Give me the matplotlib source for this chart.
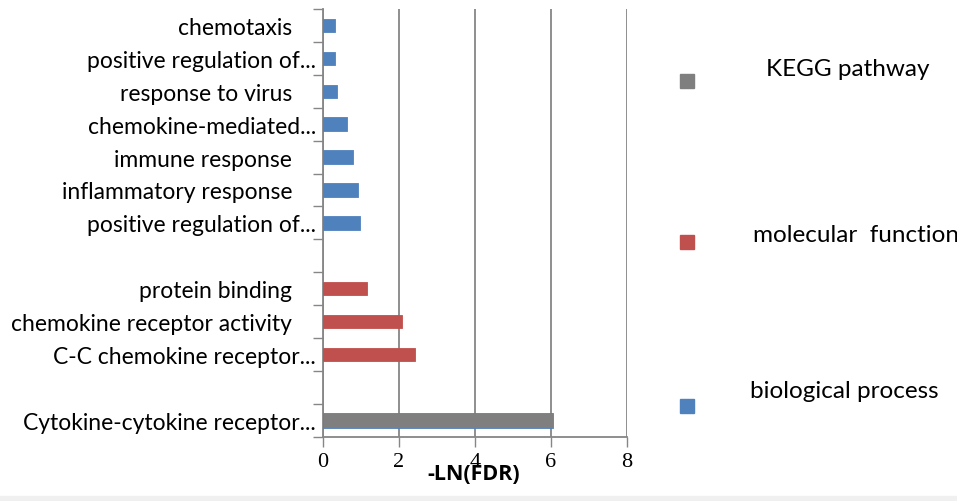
import numpy as np
import matplotlib.pyplot as plt

# categories listed bottom to top, blanks are spacer rows
labels = ["Cytokine-cytokine receptor...", "",
          "C-C chemokine receptor...", "chemokine receptor activity    ", "protein binding    ", "",
          "positive regulation of...", "inflammatory response    ", "immune response    ",
          "chemokine-mediated...", "response to virus    ", "positive regulation of...", "chemotaxis    "]
groups = ["kegg", None, "mf", "mf", "mf", None,
          "bp", "bp", "bp", "bp", "bp", "bp", "bp"]
values = [6.05, 0, 2.44, 2.08, 1.17, 0, 0.97, 0.93, 0.81, 0.65, 0.38, 0.33, 0.33]

legend_names = ["KEGG pathway", "molecular  function", "biological process"]
legend_keys = ["kegg", "mf", "bp"]
colors = {"kegg": "#7f7f7f", "mf": "#c0504d", "bp": "#4f81bd"}

W, H = 957, 502
fig = plt.figure(figsize=(W / 100, H / 100), dpi=100)
ax = fig.add_axes([322.7 / W, 1 - 437.7 / H, (626.7 - 322.7) / W, (437.7 - 10) / H])

y = np.arange(len(labels))
for yi, v, g in zip(y, values, groups):
    if g is None:
        continue
    h = 0.47 if g == "kegg" else 0.41
    ax.barh(yi, v, height=h, color=colors[g],
            edgecolor="#4f81bd" if g == "kegg" else colors[g], linewidth=0.6, zorder=3)

ax.set_xlim(0, 8)
ax.set_ylim(-0.5, len(labels) - 0.5)
ax.set_xticks([0, 2, 4, 6, 8])
ax.set_xticklabels(["0", "2", "4", "6", "8"], family="Liberation Serif", fontsize=16)
ax.grid(axis="x", color="#868686", linewidth=1.3, zorder=0)
ax.set_axisbelow(True)

# category names sit between boundary ticks
ax.set_yticks(y)
ax.set_yticklabels(labels, family="Lato", fontsize=16.5)
ax.set_yticks(np.arange(-0.5, len(labels), 1), minor=True)
ax.tick_params(axis="y", which="major", length=0, pad=5)
ax.tick_params(axis="y", which="minor", length=7, color="#868686", width=1)
ax.tick_params(axis="x", length=7, color="#868686", width=1, pad=4)

for s in ["top", "right"]:
    ax.spines[s].set_visible(False)
for s in ["left", "bottom"]:
    ax.spines[s].set_color("#868686")
    ax.spines[s].set_linewidth(1.3)

fig.text(474 / W, 1 - 474 / H, "-LN(FDR)", ha="center", va="center",
         family="Open Sans", fontweight="bold", fontsize=15.5)

# legend drawn by hand, as in the original layout
mark_y = [81.7, 243.3, 406.7]
text_pos = [(848, 70, "center"), (753, 235, "left"), (750, 392, "left")]
for key, name, my, (tx, ty, ha) in zip(legend_keys, legend_names, mark_y, text_pos):
    fig.patches.append(plt.Rectangle(((686.7 - 7) / W, 1 - (my + 7) / H), 14 / W, 14 / H,
                                     transform=fig.transFigure, color=colors[key]))
    fig.text(tx / W, 1 - ty / H, name, ha=ha, va="center", family="Lato", fontsize=17.5)

# faint strip along the bottom edge of the original image
fig.patches.append(plt.Rectangle((0, 0), 1, 5 / H, transform=fig.transFigure,
                                 color="#f0f0f0", zorder=-1))

fig.savefig("out.png", dpi=100)
